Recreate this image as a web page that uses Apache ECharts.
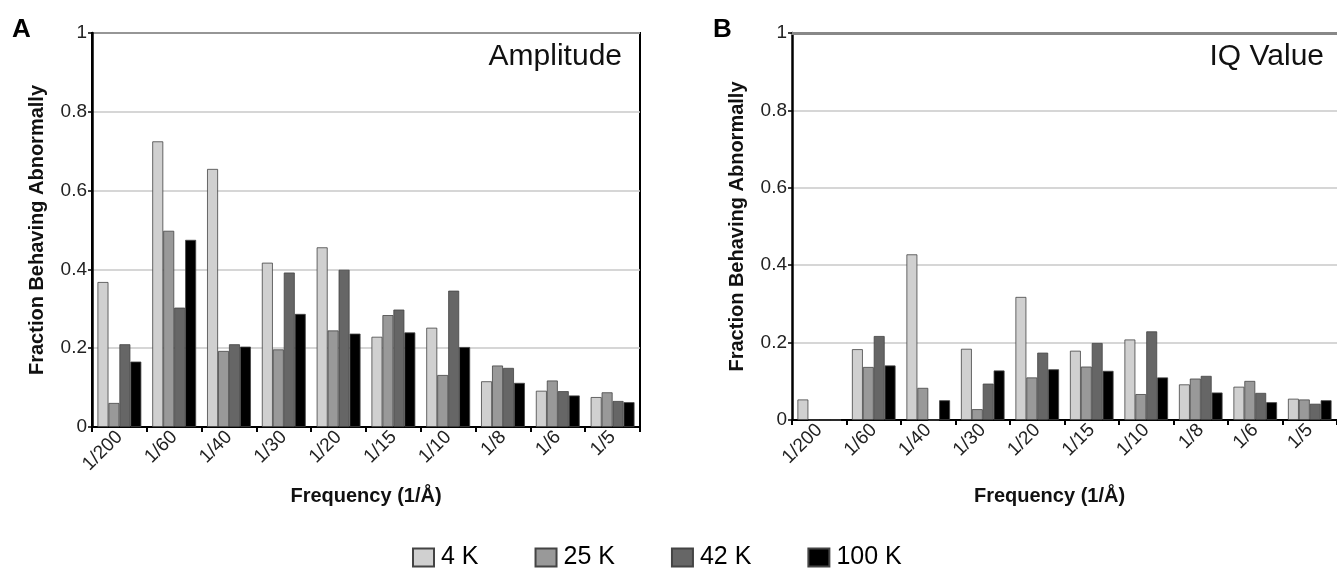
<!DOCTYPE html>
<html>
<head>
<meta charset="utf-8">
<script src="https://cdn.jsdelivr.net/npm/echarts@6/dist/echarts.min.js"></script>
<style>
html,body{margin:0;padding:0;background:#fff;}
#chart{width:1337px;height:572px;}
</style>
</head>
<body>
<div id="chart"></div>
<script>
const categories = ['1/200','1/60','1/40','1/30','1/20','1/15','1/10','1/8','1/6','1/5'];
const seriesNames = ['4 K','25 K','42 K','100 K'];
const yTicks = [0, 0.2, 0.4, 0.6, 0.8, 1];

// Panel A: Amplitude
const ampK4   = [0.368, 0.725, 0.655, 0.417, 0.456, 0.229, 0.252, 0.116, 0.092, 0.076];
const ampK25  = [0.061, 0.498, 0.193, 0.197, 0.245, 0.284, 0.132, 0.156, 0.118, 0.088];
const ampK42  = [0.210, 0.303, 0.210, 0.392, 0.399, 0.298, 0.346, 0.150, 0.091, 0.066];
const ampK100 = [0.166, 0.475, 0.204, 0.287, 0.237, 0.240, 0.203, 0.112, 0.080, 0.063];

// Panel B: IQ Value
const iqK4   = [0.053, 0.183, 0.428, 0.184, 0.318, 0.179, 0.208, 0.092, 0.086, 0.055];
const iqK25  = [0.000, 0.137, 0.083, 0.028, 0.110, 0.138, 0.067, 0.107, 0.101, 0.053];
const iqK42  = [0.000, 0.217, 0.000, 0.094, 0.174, 0.199, 0.229, 0.114, 0.070, 0.042];
const iqK100 = [0.000, 0.141, 0.051, 0.128, 0.131, 0.127, 0.110, 0.071, 0.046, 0.051];

const colors = ['#d0d0d0', '#999999', '#666666', '#000000'];
const font = '"Liberation Sans", Arial, Helvetica, sans-serif';

const chart = echarts.init(document.getElementById('chart'));

function xAxisFor(gridIndex, namePad, nameGap) {
  return {
    type: 'category', gridIndex: gridIndex, data: categories,
    axisLine: {lineStyle: {color: '#000', width: 2}},
    axisTick: {show: true, length: 5, lineStyle: {color: '#000', width: 2}},
    axisLabel: {rotate: 45, fontSize: 19, color: '#222', fontFamily: font, margin: 7},
    name: 'Frequency (1/\u00C5)', nameLocation: 'middle', nameGap: nameGap,
    nameTextStyle: {fontSize: 20, fontWeight: 'bold', color: '#111', fontFamily: font, padding: namePad}
  };
}
function topLine(gridIndex, color, width) {
  return {
    type: 'category', gridIndex: gridIndex, data: categories, position: 'top',
    axisLine: {show: true, lineStyle: {color: color, width: width}},
    axisTick: {show: false}, axisLabel: {show: false}, splitLine: {show: false}
  };
}
function yAxisFor(gridIndex) {
  return {
    type: 'value', gridIndex: gridIndex, min: 0, max: 1, interval: 0.2,
    axisLine: {show: true, lineStyle: {color: '#000', width: 2.5}},
    axisTick: {show: true, length: 4, lineStyle: {color: '#000', width: 1.5}},
    axisLabel: {fontSize: 19, color: '#222', fontFamily: font, margin: 5},
    splitLine: {show: true, lineStyle: {color: '#c8c8c8', width: 1.5}},
    name: 'Fraction Behaving Abnormally', nameLocation: 'middle', nameGap: 45,
    nameTextStyle: {fontSize: 20, fontWeight: 'bold', color: '#111', fontFamily: font}
  };
}
function barSeries(name, data, idx, axisIndex) {
  return {
    name: name, type: 'bar', data: data,
    xAxisIndex: axisIndex, yAxisIndex: axisIndex,
    barGap: '0%', barCategoryGap: '20%',
    itemStyle: {color: colors[idx], borderColor: '#444', borderWidth: 0.8},
    emphasis: {disabled: true}
  };
}

const option = {
  animation: false,
  backgroundColor: '#fff',
  title: [
    {text: 'A', left: 7, top: 12, textStyle: {fontSize: 26, fontWeight: 'bold', color: '#000', fontFamily: font}},
    {text: 'B', left: 708, top: 12, textStyle: {fontSize: 26, fontWeight: 'bold', color: '#000', fontFamily: font}}
  ],
  graphic: [
    {type: 'text', right: 1337 - 622, top: 42, style: {text: 'Amplitude', fontSize: 30, fill: '#111', fontFamily: font}},
    {type: 'text', right: 1337 - 1324, top: 42, style: {text: 'IQ Value', fontSize: 30, fill: '#111', fontFamily: font}}
  ],
  legend: {
    data: seriesNames, left: 407, top: 540,
    itemWidth: 21, itemHeight: 18, itemGap: 56,
    icon: 'rect',
    textStyle: {fontSize: 25, color: '#000', fontFamily: font, padding: [0, 0, 0, 2]}
  },
  grid: [
    {left: 92, top: 33, width: 548, height: 394, show: true, borderColor: '#000', borderWidth: 2, backgroundColor: 'transparent'},
    {left: 792, top: 33, width: 550, height: 387, show: false}
  ],
  xAxis: [xAxisFor(0, [0, 0, 0, 0], 59), xAxisFor(1, [0, 30, 0, 0], 66), topLine(1, '#888', 3)],
  yAxis: [yAxisFor(0), yAxisFor(1)],
  series: [
    barSeries(seriesNames[0], ampK4, 0, 0),
    barSeries(seriesNames[1], ampK25, 1, 0),
    barSeries(seriesNames[2], ampK42, 2, 0),
    barSeries(seriesNames[3], ampK100, 3, 0),
    barSeries(seriesNames[0], iqK4, 0, 1),
    barSeries(seriesNames[1], iqK25, 1, 1),
    barSeries(seriesNames[2], iqK42, 2, 1),
    barSeries(seriesNames[3], iqK100, 3, 1)
  ]
};
chart.setOption(option);
</script>
</body>
</html>
